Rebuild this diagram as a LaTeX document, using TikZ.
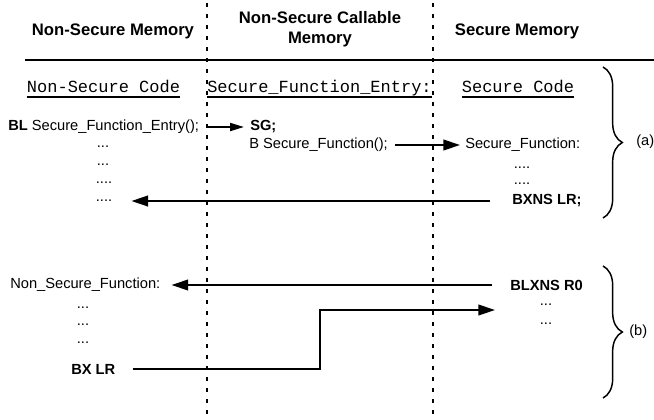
\documentclass[tikz,border=0pt]{standalone}
\usepackage{fontspec}
\setmainfont{Liberation Sans}
\setmonofont{Liberation Mono}
\usetikzlibrary{arrows.meta,decorations.pathreplacing}

\begin{document}
\begin{tikzpicture}[x=0.75pt,y=-0.75pt,
  body/.style={inner sep=0pt, anchor=west, font=\fontsize{11}{13}\selectfont},
  dots/.style={inner sep=0pt, anchor=base, font=\fontsize{11}{13}\selectfont},
  head/.style={inner sep=0pt, align=center, font=\fontsize{12.5}{15}\selectfont\bfseries},
  codetitle/.style={inner sep=0pt, anchor=base, font=\fontsize{12.75}{15}\selectfont\ttfamily},
  flow/.style={line width=1.5pt, -{Triangle[length=12.5pt,width=8pt]}},
  lane/.style={line width=1.5pt, dash pattern=on 3pt off 5.25pt},
  grp/.style={line width=1.1pt, decorate, decoration={brace, amplitude=14.5pt}},
]
\useasboundingbox (0,0) rectangle (654,419);

% memory region separators
\draw[lane] (207,3) -- (207,419);
\draw[lane] (432.5,3) -- (432.5,419);

% column headings
\node[head] (hns)  at (113,31) {Non-Secure Memory};
\node[head] (hnsc) at (320,29) {Non-Secure Callable\\Memory};
\node[head] (hs)   at (517,31) {Secure Memory};
\draw[line width=1.5pt] (25,60) -- (654,60);

% code section titles
\node[codetitle] (tns) at (103.5,92) {Non-Secure Code};
\node[codetitle] (tnsc) at (319.5,92) {Secure\_Function\_Entry:};
\node[codetitle] (ts) at (518,92) {Secure Code};
\foreach \t in {tns,tnsc,ts}
  \draw[line width=0.8pt] ([yshift=-3.75pt]\t.base west) -- ([yshift=-3.75pt]\t.base east);

% (a) call into secure code and return
\node[body] (bl)   at (8,127)   {\textbf{BL} Secure\_Function\_Entry();};
\node[body] (sg)   at (250,127) {\textbf{SG;}};
\node[body] (bsf)  at (249,145) {B Secure\_Function();};
\node[body] (sfn)  at (465,145) {Secure\_Function:};
\node[dots] (ra1)  at (522,168) {....};
\node[dots] (ra2)  at (522,184) {....};
\node[body] (bxns) at (512,201) {\textbf{BXNS LR;}};
\node[dots] (la1)  at (103,147) {...};
\node[dots] (la2)  at (103,165) {...};
\node[dots] (la3)  at (104,183) {....};
\node[dots] (la4)  at (104,201) {....};

\draw[flow, -{Triangle[length=10.5pt,width=6pt]}, shorten <=6.2pt, shorten >=4.5pt] (bl.east) -- (sg.west);
\draw[flow, shorten <=5.5pt, shorten >=3.75pt] (bsf.east) -- (sfn.west);
\draw[flow, shorten <=16.5pt, shorten >=14.25pt] (bxns.west) -- (bxns.west -| la4.east);

\draw[grp] (603,67) -- (603,218);
\node[body] (lbla) at (636,142) {(a)};

% (b) call from secure code into non-secure code and return
\node[body] (nsf)   at (10,285)  {Non\_Secure\_Function:};
\node[body] (blxns) at (510,285) {\textbf{BLXNS R0}};
\node[dots] (lb1)   at (83,308)  {...};
\node[dots] (lb2)   at (83,325)  {...};
\node[dots] (lb3)   at (83,343)  {...};
\node[body] (bxlr)  at (71,369)  {\textbf{BX LR}};
\node[dots] (rb1)   at (546,305) {...};
\node[dots] (rb2)   at (546,324) {...};

\draw[flow, shorten <=13.5pt, shorten >=8.25pt] (blxns.west) -- (blxns.west -| nsf.east);
\coordinate (bend) at (320,0);
\coordinate (ret) at (495,310);
\draw[flow, shorten <=12.75pt] (bxlr.east) -- (bxlr.east -| bend) |- (ret);

\draw[grp] (603,266) -- (603,398);
\node[body] (lblb) at (629,332) {(b)};
\end{tikzpicture}
\end{document}
